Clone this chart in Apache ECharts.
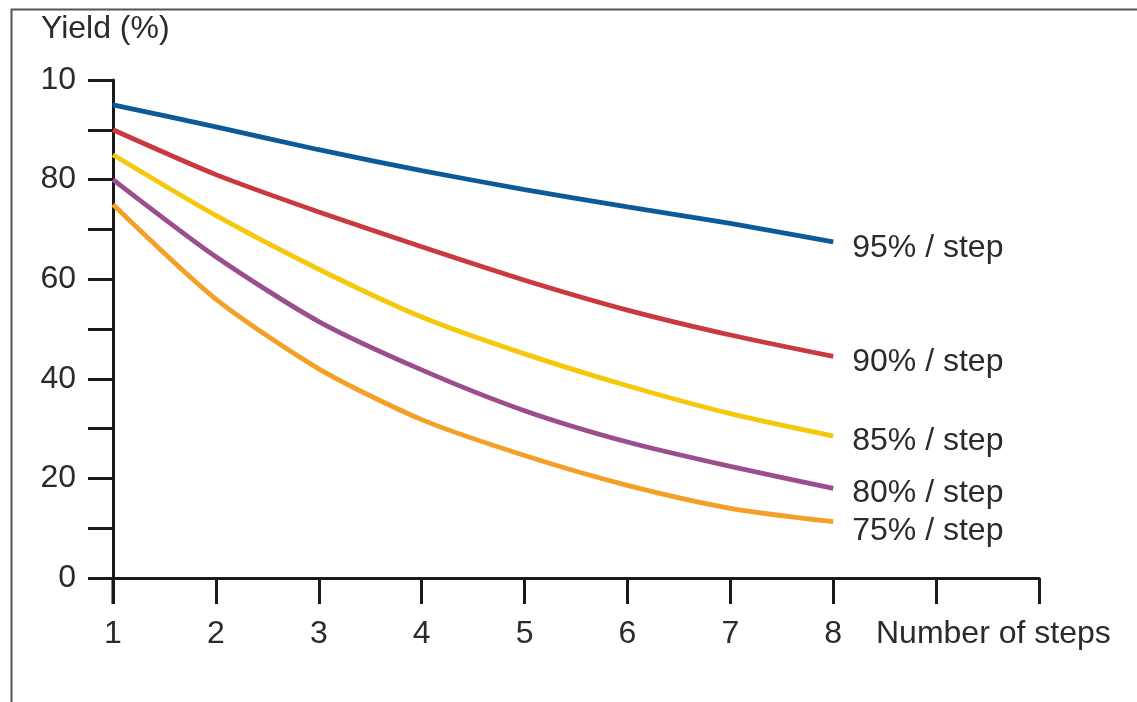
<!DOCTYPE html>
<html>
<head>
<meta charset="utf-8">
<script src="https://cdn.jsdelivr.net/npm/echarts@6/dist/echarts.min.js"></script>
<style>
html,body{margin:0;padding:0;background:#fff;}
#c{width:1137px;height:702px;}
</style>
</head>
<body>
<div id="c"></div>
<script>
// ---- data ----
const steps = [1, 2, 3, 4, 5, 6, 7, 8];
const xTickLabels = ['1', '2', '3', '4', '5', '6', '7', '8'];
const yTickLabels = { 0: '0', 20: '20', 40: '40', 60: '60', 80: '80', 100: '10' };
const seriesNames = ['95% / step', '90% / step', '85% / step', '80% / step', '75% / step'];
const yield95 = [95, 90.6, 86, 81.8, 78, 74.5, 71.2, 67.5];
const yield90 = [90, 81, 73.5, 66.5, 59.8, 53.8, 48.8, 44.5];
const yield85 = [85, 72.8, 62, 52.4, 45, 38.6, 33, 28.5];
const yield80 = [80, 64.5, 51.5, 41.8, 33.6, 27.3, 22.4, 18];
const yield75 = [75, 56, 42, 31.8, 24.6, 18.6, 14, 11.3];
const xAxisTitle = 'Number of steps';
const yAxisTitle = 'Yield (%)';

const colors = ['#0d5a98', '#c9393f', '#f5c80c', '#9b4e8e', '#f4a027'];
const labelOffsets = [[11, 6], [11, 6], [11, 5], [11, 5], [11, 9]];
const allData = [yield95, yield90, yield85, yield80, yield75];

const FONT = '"Liberation Sans", Arial, sans-serif';
const FS = 32;
const TXT = '#2b2b2b';

const chart = echarts.init(document.getElementById('c'), null, { renderer: 'canvas' });

const series = allData.map((vals, i) => ({
  name: seriesNames[i],
  type: 'line',
  data: steps.map((s, j) => [s, vals[j]]),
  smooth: 0.25,
  symbol: 'none',
  lineStyle: { color: colors[i], width: 4.8, cap: 'butt' },
  itemStyle: { color: colors[i] },
  endLabel: {
    show: true,
    formatter: seriesNames[i],
    fontFamily: FONT,
    fontSize: FS,
    color: TXT,
    offset: labelOffsets[i]
  },
  z: 3
}));

chart.setOption({
  animation: false,
  backgroundColor: '#ffffff',
  grid: { left: 113, top: 80, width: 926, height: 498, containLabel: false },
  xAxis: {
    type: 'value',
    min: 1,
    max: 10,
    interval: 1,
    axisLine: { show: true, lineStyle: { color: '#1a1a1a', width: 3 } },
    axisTick: { show: true, inside: false, length: 26, lineStyle: { color: '#1a1a1a', width: 3 } },
    axisLabel: {
      show: true,
      margin: 40,
      fontFamily: FONT,
      fontSize: FS,
      color: TXT,
      formatter: v => (v >= 1 && v <= 8 ? xTickLabels[v - 1] : '')
    },
    splitLine: { show: false }
  },
  yAxis: {
    type: 'value',
    min: 0,
    max: 100,
    interval: 10,
    axisLine: { show: true, lineStyle: { color: '#1a1a1a', width: 3 } },
    axisTick: { show: true, inside: false, length: 25, lineStyle: { color: '#1a1a1a', width: 3 } },
    axisLabel: {
      show: true,
      margin: 37,
      fontFamily: FONT,
      fontSize: FS,
      color: TXT,
      padding: [10, 0, 0, 0],
      formatter: v => (yTickLabels[v] !== undefined ? yTickLabels[v] : '')
    },
    splitLine: { show: false }
  },
  graphic: [
    { type: 'line', shape: { x1: 11, y1: 9.5, x2: 1137, y2: 9.5 }, style: { stroke: '#555', lineWidth: 2 } },
    { type: 'line', shape: { x1: 11.5, y1: 9, x2: 11.5, y2: 702 }, style: { stroke: '#555', lineWidth: 2 } },
    { type: 'line', shape: { x1: 113, y1: 578, x2: 113, y2: 604 }, style: { stroke: '#1a1a1a', lineWidth: 3 } },
    { type: 'text', left: 41, top: 13, style: { text: yAxisTitle, font: FS + 'px ' + FONT, fill: TXT } },
    { type: 'text', left: 876, top: 618, style: { text: xAxisTitle, font: FS + 'px ' + FONT, fill: TXT } }
  ],
  series: series
});
</script>
</body>
</html>
